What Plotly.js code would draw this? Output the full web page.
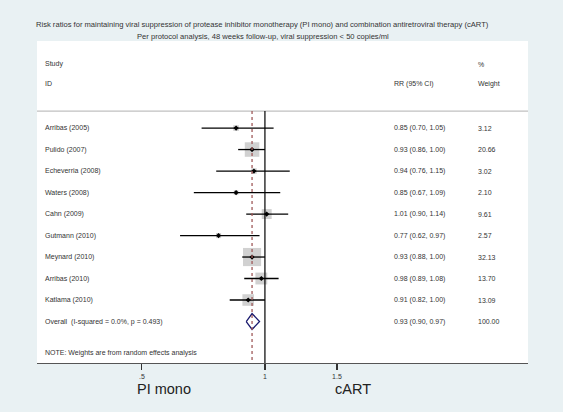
<!DOCTYPE html>
<html><head><meta charset="utf-8">
<script src="https://cdn.plot.ly/plotly-3.0.1.min.js"></script>
<style>html,body{margin:0;padding:0;background:#e9f1f3;}#c{width:563px;height:412px;}</style>
</head><body><div id="c"></div>
<script>
const studies = ["Arribas (2005)","Pulido (2007)","Echeverria (2008)","Waters (2008)","Cahn (2009)","Gutmann (2010)","Meynard (2010)","Arribas (2010)","Katlama (2010)"];
const rr     = [0.85,0.93,0.94,0.85,1.01,0.77,0.93,0.98,0.91];
const lower  = [0.70,0.86,0.76,0.67,0.90,0.62,0.88,0.89,0.82];
const upper  = [1.05,1.00,1.15,1.09,1.14,0.97,1.00,1.08,1.00];
const weight = [3.12,20.66,3.02,2.10,9.61,2.57,32.13,13.70,13.09];
const overallLabel = "Overall  (I-squared = 0.0%, p = 0.493)";
const overall = {rr:0.93, lower:0.90, upper:0.97, weight:100.00};
const tickVals = [0.5,1,1.5];
const tickText = [".5","1","1.5"];

const rows = studies.map((s,i)=>i);
const overallRow = studies.length;
const FONT = "Liberation Sans, Arial, sans-serif";
const TXT = "#333333";

const ciX=[], ciY=[];
rows.forEach(i=>{ciX.push(lower[i],upper[i],null); ciY.push(i,i,null);});

const traces = [
  {type:"scatter", mode:"markers", x:rr, y:rows, hoverinfo:"skip",
   marker:{symbol:"square", color:"#bdbdbd", size:weight.map(w=>3.2*Math.sqrt(w)), line:{width:0}}},
  {type:"scatter", mode:"lines", x:ciX, y:ciY, hoverinfo:"skip", line:{color:"#000", width:1.3}},
  {type:"scatter", mode:"markers", x:rr, y:rows, hoverinfo:"skip",
   marker:{symbol:"diamond", color:"#000", size:4}},
  {type:"scatter", mode:"lines", hoverinfo:"skip",
   x:[overall.lower, overall.rr, overall.upper, overall.rr, overall.lower],
   y:[overallRow, overallRow-0.37, overallRow, overallRow+0.37, overallRow],
   line:{color:"#1a1a6e", width:1.3}}
];

const ann = [];
const LX = 0.012;
const rrX = (392-37)/491, wX=(476-37)/491;
function t(x,y,text,opt){ann.push(Object.assign({xref:"paper",yref:"y",x:x,y:y,text:text,showarrow:false,xanchor:"left",yanchor:"middle",font:{family:FONT,size:7,color:TXT}},opt||{}));}
t(LX,-2.98,"Study"); t(LX,-2.05,"ID");
t(rrX,-2.05,"RR (95% CI)");
t(wX,-2.98,"%");
t(wX,-2.05,"Weight");
rows.forEach(i=>{
  t(LX,i,studies[i]);
  t(rrX,i,rr[i].toFixed(2)+" ("+lower[i].toFixed(2)+", "+upper[i].toFixed(2)+")");
  t(wX,i,weight[i].toFixed(2));
});
t(LX,overallRow,overallLabel);
t(rrX,overallRow,overall.rr.toFixed(2)+" ("+overall.lower.toFixed(2)+", "+overall.upper.toFixed(2)+")");
t(wX,overallRow,overall.weight.toFixed(2));
t(LX,10.47,"NOTE: Weights are from random effects analysis");
ann.push({xref:"paper",yref:"paper",x:0.46,y:1.05,yanchor:"middle",xanchor:"center",showarrow:false,
  text:"Risk ratios for maintaining viral suppression of protease inhibitor monotherapy (PI mono) and combination antiretroviral therapy (cART)",
  font:{family:FONT,size:7.6,color:TXT}});
ann.push({xref:"paper",yref:"paper",x:0.46,y:1.015,yanchor:"middle",xanchor:"center",showarrow:false,
  text:"Per protocol analysis, 48 weeks follow-up, viral suppression < 50 copies/ml",
  font:{family:FONT,size:7.6,color:TXT}});
ann.push({xref:"paper",yref:"paper",x:(135-37)/491,y:-0.05,xanchor:"left",yanchor:"top",showarrow:false,
  text:"PI mono",font:{family:FONT,size:14.5,color:"#222"}});
ann.push({xref:"paper",yref:"paper",x:(333-37)/491,y:-0.05,xanchor:"left",yanchor:"top",showarrow:false,
  text:"cART",font:{family:FONT,size:14.5,color:"#222"}});

const shapes = [
  {type:"line",xref:"paper",yref:"y",x0:0,x1:1,y0:-0.79,y1:-0.79,line:{color:"#c0c0c0",width:1.2}},
  {type:"line",xref:"x",yref:"y",x0:1,x1:1,y0:-0.79,y1:10.93,line:{color:"#000",width:1.2}},
  {type:"line",xref:"x",yref:"y",x0:overall.rr,x1:overall.rr,y0:-0.79,y1:10.93,line:{color:"#a05a5a",width:1.3,dash:"3px,3px"}}
];

const layout = {
  width:563, height:412,
  margin:{l:37,r:35,t:41,b:49},
  paper_bgcolor:"#e9f1f3", plot_bgcolor:"#ffffff",
  showlegend:false,
  xaxis:{type:"log", range:[Math.log10(0.277), Math.log10(4.40)], tickvals:tickVals, ticktext:tickText,
    ticks:"outside", ticklen:6, tickwidth:1.2, tickcolor:"#333", showline:true, linecolor:"#555", linewidth:1.3,
    showgrid:false, zeroline:false, tickfont:{family:FONT,size:7,color:TXT}, fixedrange:true},
  yaxis:{range:[10.93,-4.05], visible:false, showgrid:false, zeroline:false, fixedrange:true},
  annotations:ann, shapes:shapes
};
Plotly.newPlot("c", traces, layout, {displayModeBar:false, staticPlot:true});
</script></body></html>
